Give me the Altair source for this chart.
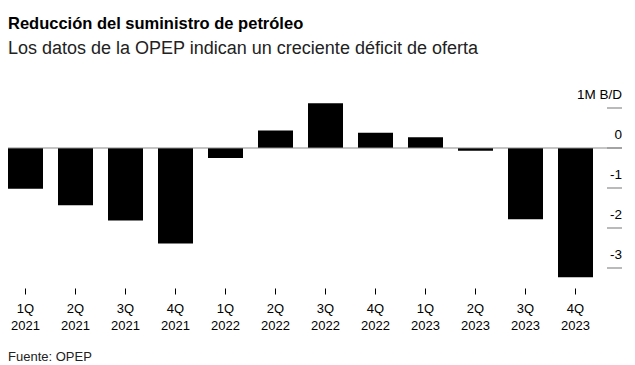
import altair as alt
import pandas as pd

quarters = ["1Q 2021", "2Q 2021", "3Q 2021", "4Q 2021",
            "1Q 2022", "2Q 2022", "3Q 2022", "4Q 2022",
            "1Q 2023", "2Q 2023", "3Q 2023", "4Q 2023"]
values = [-1.02, -1.43, -1.81, -2.39, -0.25, 0.44, 1.12, 0.38, 0.27, -0.07, -1.78, -3.23]
ytick_values = [1, 0, -1, -2, -3]
ytick_labels = ["1M B/D", "0", "-1", "-2", "-3"]
source_text = ["Fuente: OPEP"]

W = 614
H = 200
FONT = "Liberation Sans"

df = pd.DataFrame({"q": quarters, "v": values})
ticks_df = pd.DataFrame({"v": ytick_values, "lab": ytick_labels})
zero_df = pd.DataFrame({"v": [0]})
src_df = pd.DataFrame({"t": source_text})

xscale = alt.Scale(paddingInner=0.3, paddingOuter=0.29, align=0)
yscale = alt.Scale(domain=[-3.5, 1.5], nice=False, zero=False)

bars = alt.Chart(df).mark_bar(color="#000000").encode(
    x=alt.X("q:N", sort=quarters, scale=xscale, title=None,
            axis=alt.Axis(domain=False, ticks=True, tickSize=6, tickColor="#000000",
                          tickWidth=1, labelAngle=0, labelFont=FONT, labelFontSize=13,
                          labelColor="#000000", labelPadding=8, labelLineHeight=17,
                          labelExpr="split(datum.label, ' ')", grid=False)),
    y=alt.Y("v:Q", scale=yscale, axis=None),
    y2=alt.datum(0),
)

zero_line = alt.Chart(zero_df).mark_rule(color="#8c8c8c", strokeWidth=1.2).encode(
    y=alt.Y("v:Q", scale=yscale, axis=None),
    x=alt.value(0),
    x2=alt.value(W),
)

tick_rules = alt.Chart(ticks_df).mark_rule(color="#8c8c8c", strokeWidth=1.2).encode(
    y=alt.Y("v:Q", scale=yscale, axis=None),
    x=alt.value(W - 15),
    x2=alt.value(W),
)

tick_labels = alt.Chart(ticks_df).mark_text(
    align="right", baseline="middle", dy=-13.5, font=FONT, fontSize=13.5, color="#000000"
).encode(
    y=alt.Y("v:Q", scale=yscale, axis=None),
    x=alt.value(W),
    text="lab:N",
)

source = alt.Chart(src_df).mark_text(
    align="left", baseline="middle", font=FONT, fontSize=13, color="#222222"
).encode(
    x=alt.value(0),
    y=alt.value(269),
    text="t:N",
)

chart = alt.layer(bars, zero_line, tick_rules, tick_labels, source).properties(
    width=W,
    height=H,
    autosize=alt.AutoSizeParams(type="none"),
    padding={"left": 0, "top": 80, "right": 0, "bottom": 80},
    title=alt.TitleParams(
        text="Reducción del suministro de petróleo",
        subtitle="Los datos de la OPEP indican un creciente déficit de oferta",
        anchor="start", font=FONT, fontSize=16.5, fontWeight="bold", color="#000000",
        subtitleFont=FONT, subtitleFontSize=18, subtitleColor="#222222",
        subtitlePadding=7, offset=30, frame="group",
    ),
).configure_view(stroke=None)

chart.save("out.html", embed_options={"renderer": "svg", "actions": False})
